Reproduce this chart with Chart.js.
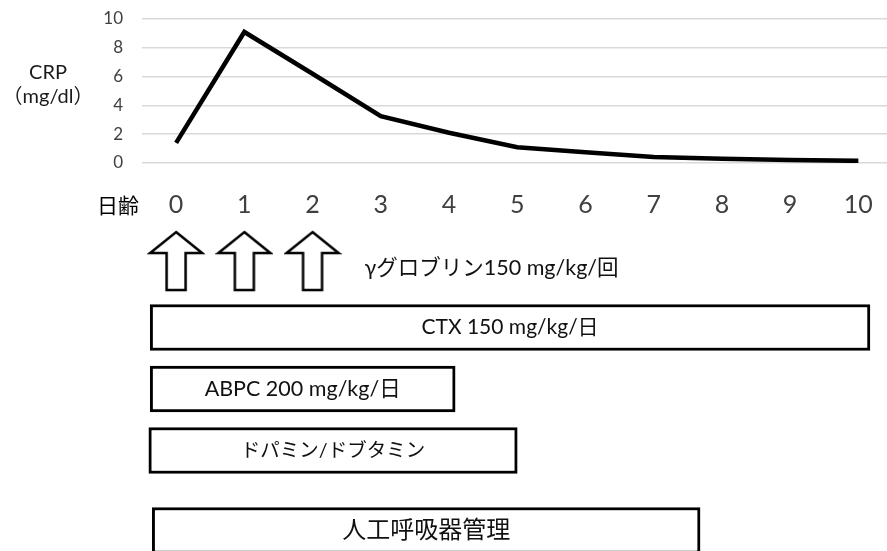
<!DOCTYPE html>
<html lang="ja">
<head>
<meta charset="utf-8">
<title>CRP推移と治療経過</title>
<script src="https://cdn.jsdelivr.net/npm/chart.js@4.4.1/dist/chart.umd.min.js"></script>
<style>
  html, body { margin: 0; padding: 0; background: #fff; }
  #wrap { position: relative; width: 887px; height: 551px; overflow: hidden;
          font-family: Lato, "Noto Sans CJK JP", sans-serif; }
  #crp { position: absolute; top: 0; left: 0; }
  #tl { position: absolute; top: 225px; left: 0; }
  .lbl { position: absolute; color: #1a1a1a; white-space: nowrap; }
  #yTitle { left: 0; top: 59px; width: 96px; text-align: center; font-size: 20px; line-height: 24px; }
  #xTitle { left: 97px; top: 193px; font-size: 21px; line-height: 24px; color: #000; }
</style>
</head>
<body>
<div id="wrap">
  <canvas id="crp" width="887" height="225"></canvas>
  <canvas id="tl" width="887" height="326"></canvas>
  <div class="lbl" id="yTitle">CRP<br>（mg/dl）</div>
  <div class="lbl" id="xTitle">日齢</div>
</div>
<script>
const FONT = 'Lato, "Noto Sans CJK JP", sans-serif';

// CRPの推移 (日齢 0〜10)
const days = [0, 1, 2, 3, 4, 5, 6, 7, 8, 9, 10];
const crp = [1.4, 9.1, 6.2, 3.25, 2.1, 1.1, 0.75, 0.42, 0.3, 0.2, 0.15];

// γグロブリン投与日
const gammaDays = [0, 1, 2];
const gammaLabel = 'γグロブリン150 mg/kg/回';

// 治療期間 (日齢)
const treatments = ['CTX 150 mg/kg/日', 'ABPC 200 mg/kg/日', 'ドパミン/ドブタミン', '人工呼吸器管理'];
const treatStart = [-0.38, -0.38, -0.4, -0.35];
const treatEnd = [10.17, 4.09, 5.0, 7.68];

// 共通の横軸範囲、行の位置、文字の大きさ (レイアウト)
const X_MIN = -0.5;
const X_MAX = 10.42;
const rowPos = { gamma: 0, rows: [1, 2, 3, 4.3] };
const labelSize = [21, 21.5, 19.5, 24];

// グラフ上段: CRP
new Chart(document.getElementById('crp'), {
    type: 'line',
    data: {
        datasets: [{
            data: days.map((d, i) => ({ x: d, y: crp[i] })),
            borderColor: '#000',
            borderWidth: 4.5,
            pointRadius: 0,
            pointHoverRadius: 0,
            tension: 0
        }]
    },
    options: {
        responsive: false,
        animation: false,
        layout: { autoPadding: false, padding: { top: 19, right: 0, bottom: 0, left: 0 } },
        scales: {
            x: {
                type: 'linear',
                min: X_MIN,
                max: X_MAX,
                afterBuildTicks: s => { s.ticks = days.map(v => ({ value: v })); },
                afterFit: s => { s.height = 62; s.paddingLeft = 0; s.paddingRight = 0; },
                grid: { display: false, drawTicks: false },
                border: { display: false },
                ticks: { font: { size: 25, family: FONT }, color: '#404040', padding: 27 }
            },
            y: {
                min: 0,
                max: 10,
                afterFit: s => { s.width = 142; s.paddingTop = 0; s.paddingBottom = 0; },
                ticks: { stepSize: 2, font: { size: 17, family: FONT }, color: '#404040', padding: 19 },
                grid: { color: '#d9d9d9', lineWidth: 1.5, drawTicks: false },
                border: { display: false }
            }
        },
        plugins: { legend: { display: false }, tooltip: { enabled: false } }
    }
});

// 矢印マーク
function makeArrow() {
    const c = document.createElement('canvas');
    c.width = 58;
    c.height = 72;
    const g = c.getContext('2d');
    const cx = 29, top = 2, headH = 21, bottom = 60, hw = 26, sw = 9.5;
    g.lineWidth = 2.5;
    g.strokeStyle = '#000';
    g.fillStyle = '#fff';
    g.lineJoin = 'miter';
    g.beginPath();
    g.moveTo(cx, top);
    g.lineTo(cx + hw, top + headH);
    g.lineTo(cx + sw, top + headH);
    g.lineTo(cx + sw, bottom);
    g.lineTo(cx - sw, bottom);
    g.lineTo(cx - sw, top + headH);
    g.lineTo(cx - hw, top + headH);
    g.closePath();
    g.fill();
    g.stroke();
    return c;
}

// 棒の中のラベルとγグロブリンの説明
const labelPlugin = {
    id: 'treatLabels',
    afterDatasetsDraw(chart) {
        const ctx = chart.ctx;
        const bars = chart.getDatasetMeta(0).data;
        ctx.save();
        ctx.fillStyle = '#111';
        ctx.textAlign = 'center';
        ctx.textBaseline = 'middle';
        bars.forEach((bar, i) => {
            const p = bar.getProps(['x', 'base', 'y'], true);
            ctx.font = labelSize[i] + 'px ' + FONT;
            ctx.fillText(treatments[i], (p.x + p.base) / 2, p.y);
        });
        const pts = chart.getDatasetMeta(1).data;
        const last = pts[pts.length - 1];
        ctx.textAlign = 'left';
        ctx.font = '21.5px ' + FONT;
        ctx.fillText(gammaLabel, last.x + 52, last.y + 2);
        ctx.restore();
    }
};

// グラフ下段: 治療経過
new Chart(document.getElementById('tl'), {
    type: 'bar',
    data: {
        datasets: [{
            data: treatments.map((t, i) => ({ x: [treatStart[i], treatEnd[i]], y: rowPos.rows[i] })),
            backgroundColor: '#fff',
            borderColor: '#000',
            borderWidth: 3,
            borderSkipped: false,
            barThickness: 46
        }, {
            type: 'scatter',
            indexAxis: 'x',
            xAxisID: 'x',
            yAxisID: 'y',
            data: gammaDays.map(d => ({ x: d, y: rowPos.gamma })),
            pointStyle: makeArrow(),
            pointRadius: 10
        }]
    },
    options: {
        indexAxis: 'y',
        responsive: false,
        animation: false,
        layout: { autoPadding: false, padding: { top: 0, right: 0, bottom: 0, left: 142 } },
        scales: {
            x: { type: 'linear', min: X_MIN, max: X_MAX, offset: false, display: false },
            y: { type: 'linear', reverse: true, min: -0.667, max: 4.634, offset: false, display: false }
        },
        plugins: { legend: { display: false }, tooltip: { enabled: false } }
    },
    plugins: [labelPlugin]
});
</script>
</body>
</html>
